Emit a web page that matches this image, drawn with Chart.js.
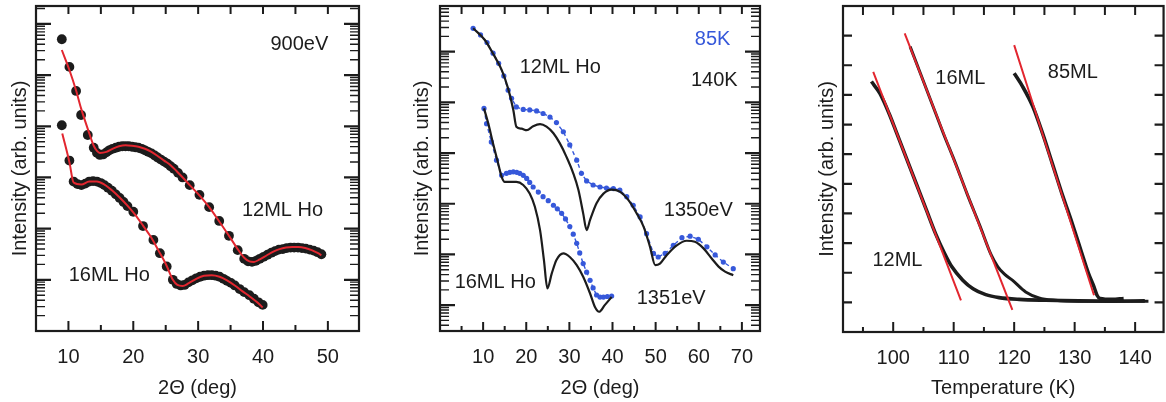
<!DOCTYPE html>
<html>
<head>
<meta charset="utf-8">
<script src="https://cdn.jsdelivr.net/npm/chart.js@4.4.1/dist/chart.umd.min.js"></script>
<style>
  body { margin: 0; background: #fff; width: 1166px; height: 402px; overflow: hidden; position: relative; }
  canvas { position: absolute; top: 0; }
</style>
</head>
<body>
<canvas id="c1" width="380" height="402" style="left:0"></canvas>
<canvas id="c2" width="390" height="402" style="left:390px"></canvas>
<canvas id="c3" width="386" height="402" style="left:780px"></canvas>
<script>
// ---- panel 1: 900 eV, log intensity (decades) vs 2theta ----
const p1Theta12 = [8.98, 10.15, 11.18, 11.95, 12.98, 13.9, 14.4, 14.85, 15.35, 15.85, 16.3, 16.8, 17.3, 17.8, 18.3, 18.8, 19.3, 19.8, 20.3, 20.8, 21.3, 21.8, 22.3, 22.8, 23.3, 23.75, 24.25, 24.75, 25.25, 25.75, 26.25, 26.9, 27.6, 28.7, 30.2, 31.7, 33.25, 34.75, 36.1, 37.1, 37.7, 38.3, 38.9, 39.5, 40.1, 40.7, 41.3, 41.85, 42.45, 43.05, 43.65, 44.25, 44.8, 45.4, 46.0, 46.6, 47.2, 47.8, 48.4, 49.0];
const p1Int12 = [5.70, 5.16, 4.69, 4.22, 3.83, 3.58, 3.48, 3.44, 3.45, 3.49, 3.53, 3.56, 3.58, 3.60, 3.61, 3.61, 3.61, 3.60, 3.59, 3.58, 3.56, 3.53, 3.50, 3.47, 3.43, 3.39, 3.35, 3.31, 3.27, 3.22, 3.17, 3.09, 3.00, 2.85, 2.66, 2.42, 2.15, 1.86, 1.58, 1.41, 1.36, 1.35, 1.37, 1.41, 1.45, 1.49, 1.53, 1.56, 1.59, 1.60, 1.62, 1.63, 1.63, 1.63, 1.62, 1.61, 1.59, 1.57, 1.54, 1.50];
const p1FitTheta12 = [8.98, 10.15, 11.18, 11.95, 12.98, 13.9, 14.4, 14.85, 15.85, 16.8, 17.8, 18.8, 19.8, 20.8, 21.8, 22.8, 23.75, 24.75, 25.75, 26.7, 27.7, 28.7, 30.2, 31.7, 33.15, 34.65, 36.1, 37.1, 37.9, 38.6, 39.5, 40.6, 41.6, 42.55, 43.55, 44.5, 45.5, 46.5, 47.5, 48.5, 49.0];
const p1Fit12 = [5.49, 5.10, 4.70, 4.35, 3.95, 3.62, 3.52, 3.48, 3.50, 3.56, 3.61, 3.63, 3.62, 3.60, 3.56, 3.50, 3.42, 3.33, 3.24, 3.12, 2.99, 2.85, 2.65, 2.42, 2.16, 1.88, 1.60, 1.43, 1.36, 1.35, 1.40, 1.48, 1.55, 1.60, 1.63, 1.64, 1.64, 1.62, 1.58, 1.52, 1.48];
const p1Theta16 = [8.98, 10.15, 10.8, 11.4, 12.0, 12.6, 13.2, 13.8, 14.4, 15.0, 15.55, 16.1, 16.7, 17.3, 17.9, 18.5, 19.1, 20.0, 21.5, 23.1, 24.1, 25.15, 26.1, 26.7, 27.3, 27.9, 28.5, 29.1, 29.7, 30.3, 30.9, 31.5, 32.1, 32.7, 33.3, 33.9, 34.45, 35.05, 35.65, 36.4, 37.1, 37.9, 38.6, 39.3, 39.95];
const p1Int16 = [4.02, 3.33, 2.92, 2.87, 2.85, 2.88, 2.92, 2.93, 2.92, 2.89, 2.85, 2.80, 2.74, 2.67, 2.60, 2.52, 2.44, 2.33, 2.05, 1.78, 1.52, 1.26, 1.00, 0.92, 0.89, 0.90, 0.95, 0.99, 1.03, 1.06, 1.08, 1.09, 1.09, 1.08, 1.06, 1.02, 0.98, 0.94, 0.89, 0.82, 0.76, 0.70, 0.63, 0.56, 0.51];
const p1FitTheta16 = [9.05, 10.15, 10.8, 12.0, 13.2, 14.4, 15.55, 16.7, 17.9, 19.1, 20.3, 21.5, 22.7, 23.85, 25.05, 26.1, 26.8, 27.6, 28.5, 29.7, 30.9, 32.1, 33.3, 34.45, 35.65, 36.8, 38.0, 39.2, 39.95];
const p1Fit16 = [3.86, 3.30, 2.90, 2.86, 2.92, 2.92, 2.86, 2.75, 2.61, 2.45, 2.27, 2.06, 1.84, 1.58, 1.30, 1.00, 0.90, 0.88, 0.93, 1.02, 1.08, 1.09, 1.06, 0.99, 0.89, 0.78, 0.67, 0.55, 0.46];

// ---- panel 2: 1350/1351 eV, 140 K (black) and 85 K (blue) ----
const p2Theta12Hot = [7.68, 10.4, 12.3, 14.3, 15.8, 17.0, 17.7, 18.9, 20.1, 21.6, 23.2, 24.7, 26.3, 27.8, 29.3, 30.9, 32.1, 33.2, 34.0, 34.8, 36.3, 37.9, 39.8, 41.7, 43.7, 45.6, 47.2, 48.7, 49.9, 51.0, 52.6, 54.9, 57.2, 59.1, 61.1, 63.0, 64.6, 66.1, 68.0];
const p2Int12Hot = [5.46, 5.23, 4.96, 4.64, 4.27, 3.85, 3.52, 3.48, 3.45, 3.53, 3.57, 3.52, 3.39, 3.19, 2.93, 2.60, 2.27, 1.81, 1.48, 1.68, 2.01, 2.20, 2.28, 2.24, 2.07, 1.81, 1.55, 1.15, 0.79, 0.82, 0.99, 1.18, 1.27, 1.25, 1.12, 0.92, 0.76, 0.66, 0.59];
const p2Theta12Cold = [7.68, 9.4, 10.9, 12.3, 13.6, 14.8, 15.8, 16.6, 17.7, 19.3, 20.8, 22.4, 23.9, 25.5, 27.0, 28.6, 30.1, 31.7, 32.8, 34.0, 35.5, 37.1, 38.6, 40.2, 41.7, 43.3, 44.8, 46.4, 47.9, 49.5, 50.6, 52.2, 54.1, 56.1, 58.0, 59.9, 61.9, 63.8, 65.7, 68.0];
const p2Int12Cold = [5.46, 5.33, 5.18, 4.97, 4.77, 4.52, 4.24, 4.08, 3.91, 3.86, 3.85, 3.83, 3.78, 3.71, 3.60, 3.42, 3.16, 2.86, 2.60, 2.45, 2.37, 2.33, 2.31, 2.30, 2.27, 2.14, 1.97, 1.74, 1.41, 1.02, 0.95, 1.02, 1.18, 1.33, 1.36, 1.30, 1.15, 0.99, 0.85, 0.72];
const p2Theta16Hot = [10.2, 11.2, 12.3, 13.5, 14.3, 15.0, 16.2, 17.7, 19.3, 20.8, 22.0, 23.2, 24.1, 24.9, 25.9, 27.0, 28.6, 30.1, 31.7, 33.2, 34.8, 35.9, 36.9, 38.2, 39.8];
const p2Int16Hot = [3.88, 3.58, 3.19, 2.79, 2.53, 2.43, 2.43, 2.43, 2.37, 2.20, 1.94, 1.48, 0.89, 0.33, 0.62, 0.89, 1.02, 0.95, 0.79, 0.56, 0.23, -0.03, -0.13, 0.00, 0.16];
const p2Theta16Cold = [10.2, 10.8, 11.9, 13.1, 14.3, 15.4, 16.2, 17.0, 17.8, 18.5, 19.3, 20.1, 20.8, 21.6, 22.8, 23.9, 25.1, 26.3, 27.2, 28.2, 29.1, 30.1, 30.9, 31.7, 32.4, 33.2, 34.0, 34.8, 35.5, 36.3, 37.1, 37.9, 38.8, 39.8];
const p2Int16Cold = [3.88, 3.58, 3.22, 2.86, 2.56, 2.60, 2.62, 2.63, 2.62, 2.60, 2.56, 2.50, 2.42, 2.33, 2.23, 2.14, 2.06, 1.97, 1.90, 1.81, 1.70, 1.55, 1.40, 1.22, 1.03, 0.82, 0.65, 0.49, 0.34, 0.20, 0.16, 0.16, 0.17, 0.18];

// ---- panel 3: intensity vs temperature ----
const p3Temp12 = [96.4, 97.8, 99.3, 100.6, 102.1, 103.8, 105.5, 107.0, 108.5, 109.7, 111.5, 113.2, 115.3, 117.5, 120.8, 125.2, 130.7, 136.2, 141.6];
const p3Int12 = [8.45, 8.05, 7.38, 6.70, 5.91, 5.01, 4.11, 3.32, 2.65, 2.20, 1.75, 1.46, 1.26, 1.16, 1.10, 1.07, 1.05, 1.04, 1.05];
const p3Temp16 = [102.8, 104.6, 106.4, 108.3, 110.3, 112.2, 114.4, 116.2, 117.3, 118.4, 119.7, 121.9, 124.1, 126.8, 130.7, 136.2, 142.2];
const p3Int16 = [9.63, 8.67, 7.71, 6.70, 5.69, 4.67, 3.55, 2.60, 2.20, 1.95, 1.75, 1.35, 1.15, 1.07, 1.04, 1.04, 1.04];
const p3Temp85 = [120.0, 121.4, 123.1, 124.7, 126.3, 127.9, 129.6, 131.2, 132.3, 133.2, 133.7, 134.2, 136.2, 138.1];
const p3Int85 = [8.73, 8.28, 7.60, 6.70, 5.69, 4.67, 3.66, 2.65, 1.97, 1.52, 1.24, 1.13, 1.10, 1.13];
const p3FitTemp12 = [96.7, 111.2];
const p3Fit12 = [8.78, 1.07];
const p3FitTemp16 = [101.9, 119.7];
const p3Fit16 = [10.08, 0.75];
const p3FitTemp85 = [120.0, 133.2];
const p3Fit85 = [9.68, 1.24];

// ---- text labels placed in data units ----
const p1Notes = ['900eV', '12ML Ho', '16ML Ho'];
const p1NoteX = [45.6, 43.0, 16.3];
const p1NoteY = [5.59, 2.36, 1.09];
const p2Notes = ['85K', '12ML Ho', '140K', '1350eV', '16ML Ho', '1351eV'];
const p2NoteX = [63.2, 27.9, 63.6, 59.9, 12.8, 53.6];
const p2NoteY = [5.23, 4.69, 4.44, 1.87, 0.45, 0.14];
const p3Notes = ['16ML', '85ML', '12ML'];
const p3NoteX = [111.1, 129.7, 100.7];
const p3NoteY = [8.57, 8.74, 2.42];

const INK = '#1c1c1c';
const RED = '#e2262f';
const BLUE = '#3658da';
Chart.defaults.font.family = '"Liberation Sans", Arial, sans-serif';
Chart.defaults.color = INK;

const toPts = (xs, ys) => xs.map((x, i) => ({ x, y: ys[i] }));
const notes = (texts, xs, ys, colors) => texts.map((t, i) => ({ text: t, x: xs[i], y: ys[i], color: (colors && colors[i]) || INK }));

// log-style ticks on an axis measured in decades
function logTicks(scale) {
  const out = [];
  for (let n = Math.floor(scale.min); n <= Math.ceil(scale.max); n++) {
    for (let k = 1; k <= 9; k++) {
      const v = n + Math.log10(k);
      if (v > scale.min + 1e-6 && v < scale.max - 1e-6) out.push({ value: v, major: k === 1 });
    }
  }
  scale.ticks = out;
}

function stepTicks(step, majorEvery) {
  return scale => {
    const out = [];
    for (let v = Math.ceil(scale.min / step) * step; v < scale.max - 1e-6; v += step) {
      if (v <= scale.min + 1e-6) continue;
      const r = v / majorEvery;
      out.push({ value: v, major: Math.abs(r - Math.round(r)) < 1e-6 });
    }
    scale.ticks = out;
  };
}

// frame box, inward ticks on all four sides, and text notes
const framePlugin = {
  id: 'frame',
  afterDatasetsDraw(chart, args, o) {
    const { ctx, chartArea: a } = chart;
    const xs = chart.scales.x, ys = chart.scales.y;
    ctx.save();
    ctx.strokeStyle = INK;
    xs.ticks.forEach(t => {
      const p = xs.getPixelForValue(t.value);
      ctx.lineWidth = 2;
      ctx.beginPath();
      ctx.moveTo(p, a.bottom); ctx.lineTo(p, a.bottom - (t.major ? o.xMajor : o.xMinor));
      ctx.moveTo(p, a.top); ctx.lineTo(p, a.top + o.xTop);
      ctx.stroke();
    });
    ys.ticks.forEach(t => {
      const p = ys.getPixelForValue(t.value);
      const len = t.major ? o.yMajor : o.yMinor;
      ctx.lineWidth = t.major ? 2.2 : 1.4;
      ctx.beginPath();
      ctx.moveTo(a.left, p); ctx.lineTo(a.left + len, p);
      ctx.moveTo(a.right, p); ctx.lineTo(a.right - len, p);
      ctx.stroke();
    });
    ctx.lineWidth = 2.2;
    ctx.strokeRect(a.left, a.top, a.right - a.left, a.bottom - a.top);

    ctx.font = '20px "Liberation Sans", Arial, sans-serif';
    ctx.textAlign = 'center';
    ctx.textBaseline = 'middle';
    (o.notes || []).forEach(n => {
      ctx.fillStyle = n.color;
      ctx.fillText(n.text, xs.getPixelForValue(n.x), ys.getPixelForValue(n.y));
    });
    ctx.restore();
  }
};

function makePanel(id, cfg) {
  return new Chart(document.getElementById(id), {
    type: 'scatter',
    data: { datasets: cfg.datasets },
    plugins: [framePlugin],
    options: {
      responsive: false,
      animation: false,
      layout: { padding: { left: 0, top: 6, right: cfg.padRight, bottom: 0 } },
      plugins: { legend: { display: false }, tooltip: { enabled: false }, frame: cfg.frame },
      scales: {
        x: {
          type: 'linear', min: cfg.xMin, max: cfg.xMax,
          afterBuildTicks: stepTicks(5, 10),
          afterFit: s => { s.height = 402 - cfg.bottom; },
          grid: { display: false, drawTicks: false },
          border: { display: false },
          ticks: {
            autoSkip: false, maxRotation: 0, padding: 14, font: { size: 20 },
            callback: v => (Math.abs(v % 10) < 1e-6 ? v : '')
          },
          title: { display: true, text: cfg.xTitle, font: { size: 20 }, padding: { top: 0, bottom: 2 } }
        },
        y: {
          type: 'linear', min: cfg.yMin, max: cfg.yMax,
          afterBuildTicks: cfg.yTicks,
          afterFit: s => { s.width = cfg.left; },
          grid: { display: false, drawTicks: false },
          border: { display: false },
          ticks: { display: false },
          title: { display: true, text: 'Intensity (arb. units)', font: { size: 20 }, padding: { top: cfg.yTitlePad, bottom: 0 } }
        }
      }
    }
  });
}

const dots = (xs, ys) => ({ data: toPts(xs, ys), showLine: false, pointRadius: 4.9, pointBackgroundColor: INK, pointBorderWidth: 0, order: 1 });
const curve = (xs, ys, color, width) => ({ data: toPts(xs, ys), showLine: true, pointRadius: 0, borderColor: color, borderWidth: width, cubicInterpolationMode: 'monotone', order: 0 });
const blueDash = (xs, ys) => ({ data: toPts(xs, ys), showLine: true, borderColor: BLUE, borderWidth: 1.4, borderDash: [4, 3], pointRadius: 2.6, pointBackgroundColor: BLUE, pointBorderWidth: 0, order: 1 });
const under = ds => Object.assign(ds, { order: 1 });

makePanel('c1', {
  xMin: 5, xMax: 54.8, yMin: 0, yMax: 6.35, yTicks: logTicks,
  left: 36, padRight: 21, bottom: 331, yTitlePad: 8,
  xTitle: '2\u0398 (deg)',
  frame: { xMajor: 10, xMinor: 6, xTop: 8, yMajor: 15, yMinor: 9, notes: notes(p1Notes, p1NoteX, p1NoteY) },
  datasets: [
    curve(p1FitTheta12, p1Fit12, RED, 2),
    curve(p1FitTheta16, p1Fit16, RED, 2),
    dots(p1Theta12, p1Int12),
    dots(p1Theta16, p1Int16)
  ]
});

makePanel('c2', {
  xMin: 0, xMax: 74.2, yMin: -0.51, yMax: 5.9, yTicks: logTicks,
  left: 50, padRight: 20, bottom: 331, yTitlePad: 20,
  xTitle: '2\u0398 (deg)',
  frame: { xMajor: 9, xMinor: 5, xTop: 8, yMajor: 15, yMinor: 9, notes: notes(p2Notes, p2NoteX, p2NoteY, [BLUE]) },
  datasets: [
    curve(p2Theta12Hot, p2Int12Hot, INK, 2.2),
    curve(p2Theta16Hot, p2Int16Hot, INK, 2.2),
    blueDash(p2Theta12Cold, p2Int12Cold),
    blueDash(p2Theta16Cold, p2Int16Cold)
  ]
});

makePanel('c3', {
  xMin: 91.7, xMax: 144.7, yMin: 0, yMax: 11, yTicks: stepTicks(1, 1),
  left: 63, padRight: 2, bottom: 332, yTitlePad: 35,
  xTitle: 'Temperature (K)',
  frame: { xMajor: 10, xMinor: 5, xTop: 9, yMajor: 9, yMinor: 9, notes: notes(p3Notes, p3NoteX, p3NoteY) },
  datasets: [
    curve(p3FitTemp12, p3Fit12, RED, 2),
    curve(p3FitTemp16, p3Fit16, RED, 2),
    curve(p3FitTemp85, p3Fit85, RED, 2),
    under(curve(p3Temp12, p3Int12, INK, 3.6)),
    under(curve(p3Temp16, p3Int16, INK, 3)),
    under(curve(p3Temp85, p3Int85, INK, 3.6))
  ]
});
</script>
</body>
</html>
